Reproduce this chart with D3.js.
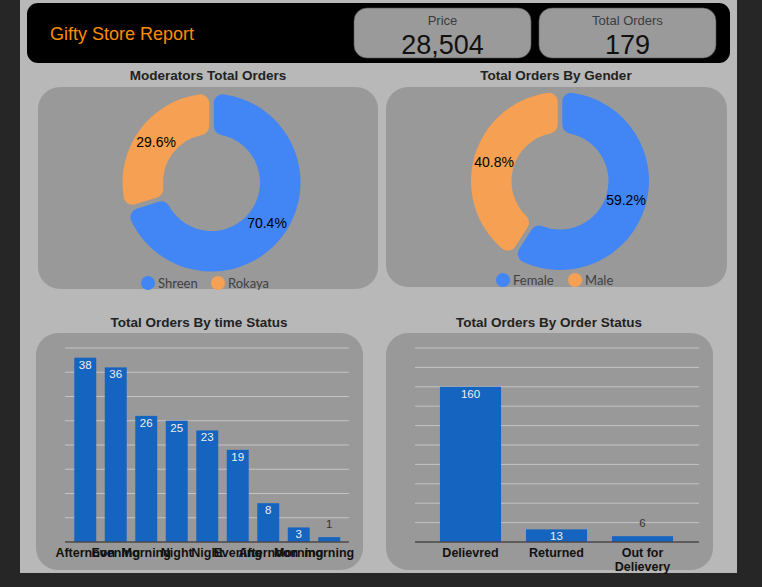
<!DOCTYPE html>
<html>
<head>
<meta charset="utf-8">
<script src="https://cdn.jsdelivr.net/npm/d3@7"></script>
<style>
  html, body { margin: 0; padding: 0; background: #262626; }
  svg { display: block; font-family: 'Liberation Sans', Arial, sans-serif; }
</style>
</head>
<body>
<div id="chart"></div>
<script>
// data
const kpiLabels = ['Price', 'Total Orders'];
const kpiValues = [28504, 179];

const moderatorNames = ['Shreen', 'Rokaya'];
const moderatorShares = [70.4, 29.6];

const genderNames = ['Female', 'Male'];
const genderShares = [59.2, 40.8];

const timeCategories = ['Afternoon', 'Evening', 'Morning', 'Night', 'Night', 'Evening', 'Afternoon', 'Morning', 'morning'];
const timeValues = [38, 36, 26, 25, 23, 19, 8, 3, 1];

const statusCategories = ['Delievred', 'Returned', 'Out for|Delievery'];
const statusValues = [160, 13, 6];

const width = 762;
const height = 587;

const pieColors = ['#4285f4', '#f5a052'];
const barColor = '#1565c0';

let svg = d3.select('#chart')
    .append('svg')
        .attr('width', width)
        .attr('height', height);

// page background
svg.append('rect').attr('x', 0).attr('y', 0).attr('width', width).attr('height', height).attr('fill', '#262626');
svg.append('rect').attr('x', 20).attr('y', 0).attr('width', 717).attr('height', 573).attr('fill', '#b8b8b8');

// header
svg.append('rect')
    .attr('x', 27).attr('y', 3).attr('width', 703).attr('height', 60)
    .attr('rx', 11)
    .attr('fill', '#000');

svg.append('text')
    .attr('x', 50).attr('y', 40)
    .attr('fill', '#ff8c00')
    .style('font-size', '18px')
    .text('Gifty Store Report');

// kpi cards
let cardX = d3.scaleBand().domain(kpiLabels).range([354, 716]).paddingInner(0.043);
let cards = svg.append('g')
    .selectAll('g')
    .data(kpiLabels)
    .join('g')
        .attr('transform', d => `translate(${cardX(d)}, 8)`);

cards.append('rect')
    .attr('width', cardX.bandwidth()).attr('height', 50)
    .attr('rx', 13)
    .attr('fill', '#9a9a9a')
    .attr('stroke', '#555')
    .attr('stroke-width', 0.6);

cards.append('text')
    .attr('x', cardX.bandwidth() / 2).attr('y', 17)
    .attr('text-anchor', 'middle')
    .attr('fill', '#3c3c3c')
    .style('font-size', '13px')
    .text(d => d);

cards.append('text')
    .attr('x', cardX.bandwidth() / 2).attr('y', 46)
    .attr('text-anchor', 'middle')
    .attr('fill', '#111')
    .style('font-size', '27px')
    .text((d, i) => d3.format(',')(kpiValues[i]));

// panel helper
function panel(x, y, w, h, title, titleX, titleY) {
    svg.append('rect')
        .attr('x', x).attr('y', y).attr('width', w).attr('height', h)
        .attr('rx', 22)
        .attr('fill', '#999999');
    svg.append('text')
        .attr('x', titleX).attr('y', titleY)
        .attr('text-anchor', 'middle')
        .attr('fill', '#222')
        .style('font-size', '13.5px')
        .style('font-weight', 'bold')
        .text(title);
}

// donut charts
function donut(names, shares, cx, cy, legendX, legendY) {
    let pie = d3.pie().sort(null).value(d => d).padAngle(0.045);
    let arc = d3.arc().innerRadius(48.5).outerRadius(89).cornerRadius(9);
    let labelArc = d3.arc().innerRadius(48.5).outerRadius(89);

    let g = svg.append('g').attr('transform', `translate(${cx}, ${cy})`);
    let arcs = pie(shares);

    g.selectAll('path')
        .data(arcs)
        .join('path')
            .attr('d', arc)
            .attr('fill', (d, i) => pieColors[i]);

    g.selectAll('text')
        .data(arcs)
        .join('text')
            .attr('transform', d => `translate(${labelArc.centroid(d)})`)
            .attr('text-anchor', 'middle')
            .attr('dy', '0.35em')
            .attr('fill', '#000')
            .style('font-size', '14px')
            .text(d => d.data.toFixed(1) + '%');

    // legend
    let leg = svg.append('g')
        .selectAll('g')
        .data(names)
        .join('g')
            .attr('transform', (d, i) => `translate(${legendX[i]}, ${legendY})`);
    leg.append('circle').attr('r', 7).attr('fill', (d, i) => pieColors[i]);
    leg.append('text')
        .attr('x', 10).attr('dy', '0.35em')
        .attr('fill', '#404040')
        .style('font-family', 'Lato, sans-serif')
        .style('font-size', '13px')
        .text(d => d);
}

panel(38, 87, 340, 202, 'Moderators Total Orders', 208, 80);
donut(moderatorNames, moderatorShares, 211.5, 182.5, [148, 218], 283);

panel(386, 87, 341, 200, 'Total Orders By Gender', 556, 80);
donut(genderNames, genderShares, 560, 181, [503, 575], 280);

// bar charts
function barChart(cats, vals, maxV, plotX0, plotX1, bandX0, bandX1, pad) {
    let y = d3.scaleLinear().domain([0, maxV]).range([542, 348]);
    let x = d3.scaleBand()
        .domain(d3.range(cats.length))
        .range([bandX0, bandX1])
        .paddingInner(pad)
        .paddingOuter(pad / 2);

    let g = svg.append('g');

    // gridlines
    g.append('g')
        .selectAll('line')
        .data(y.ticks(8).filter(t => t > 0))
        .join('line')
            .attr('x1', plotX0).attr('x2', plotX1)
            .attr('y1', d => y(d)).attr('y2', d => y(d))
            .attr('stroke', '#c4c4c4')
            .attr('stroke-width', 1);

    g.append('g')
        .selectAll('rect')
        .data(vals)
        .join('rect')
            .attr('x', (d, i) => x(i))
            .attr('y', d => y(d))
            .attr('width', x.bandwidth())
            .attr('height', d => y(0) - y(d))
            .attr('fill', barColor);

    // baseline
    g.append('line')
        .attr('x1', plotX0).attr('x2', plotX1)
        .attr('y1', y(0)).attr('y2', y(0))
        .attr('stroke', '#4a4a4a')
        .attr('stroke-width', 1.5);

    // value labels
    g.append('g')
        .selectAll('text')
        .data(vals)
        .join('text')
            .attr('x', (d, i) => x(i) + x.bandwidth() / 2)
            .attr('y', d => (y(0) - y(d)) > 10 ? y(d) + 11 : y(d) - 9)
            .attr('text-anchor', 'middle')
            .attr('fill', d => (y(0) - y(d)) > 10 ? '#f0f0f0' : '#333')
            .style('font-size', '11.5px')
            .text(d => d);

    // category labels
    let labels = g.append('g')
        .selectAll('text')
        .data(cats)
        .join('text')
            .attr('x', (d, i) => x(i) + x.bandwidth() / 2)
            .attr('y', 557)
            .attr('text-anchor', 'middle')
            .attr('fill', '#111')
            .style('font-size', '12.5px')
            .style('font-weight', 'bold');
    labels.each(function(d) {
        let parts = d.split('|');
        let t = d3.select(this);
        parts.forEach((p, k) => {
            t.append('tspan')
                .attr('x', t.attr('x'))
                .attr('dy', k === 0 ? 0 : 13.5)
                .text(p);
        });
    });
}

panel(36, 333, 327, 237, 'Total Orders By time Status', 199, 327);
barChart(timeCategories, timeValues, 40, 65, 349, 70, 344.5, 0.28);

panel(386, 333, 327, 237, 'Total Orders By Order Status', 549, 327);
barChart(statusCategories, statusValues, 200, 415, 699, 427.5, 685.5, 0.29);
</script>
</body>
</html>
